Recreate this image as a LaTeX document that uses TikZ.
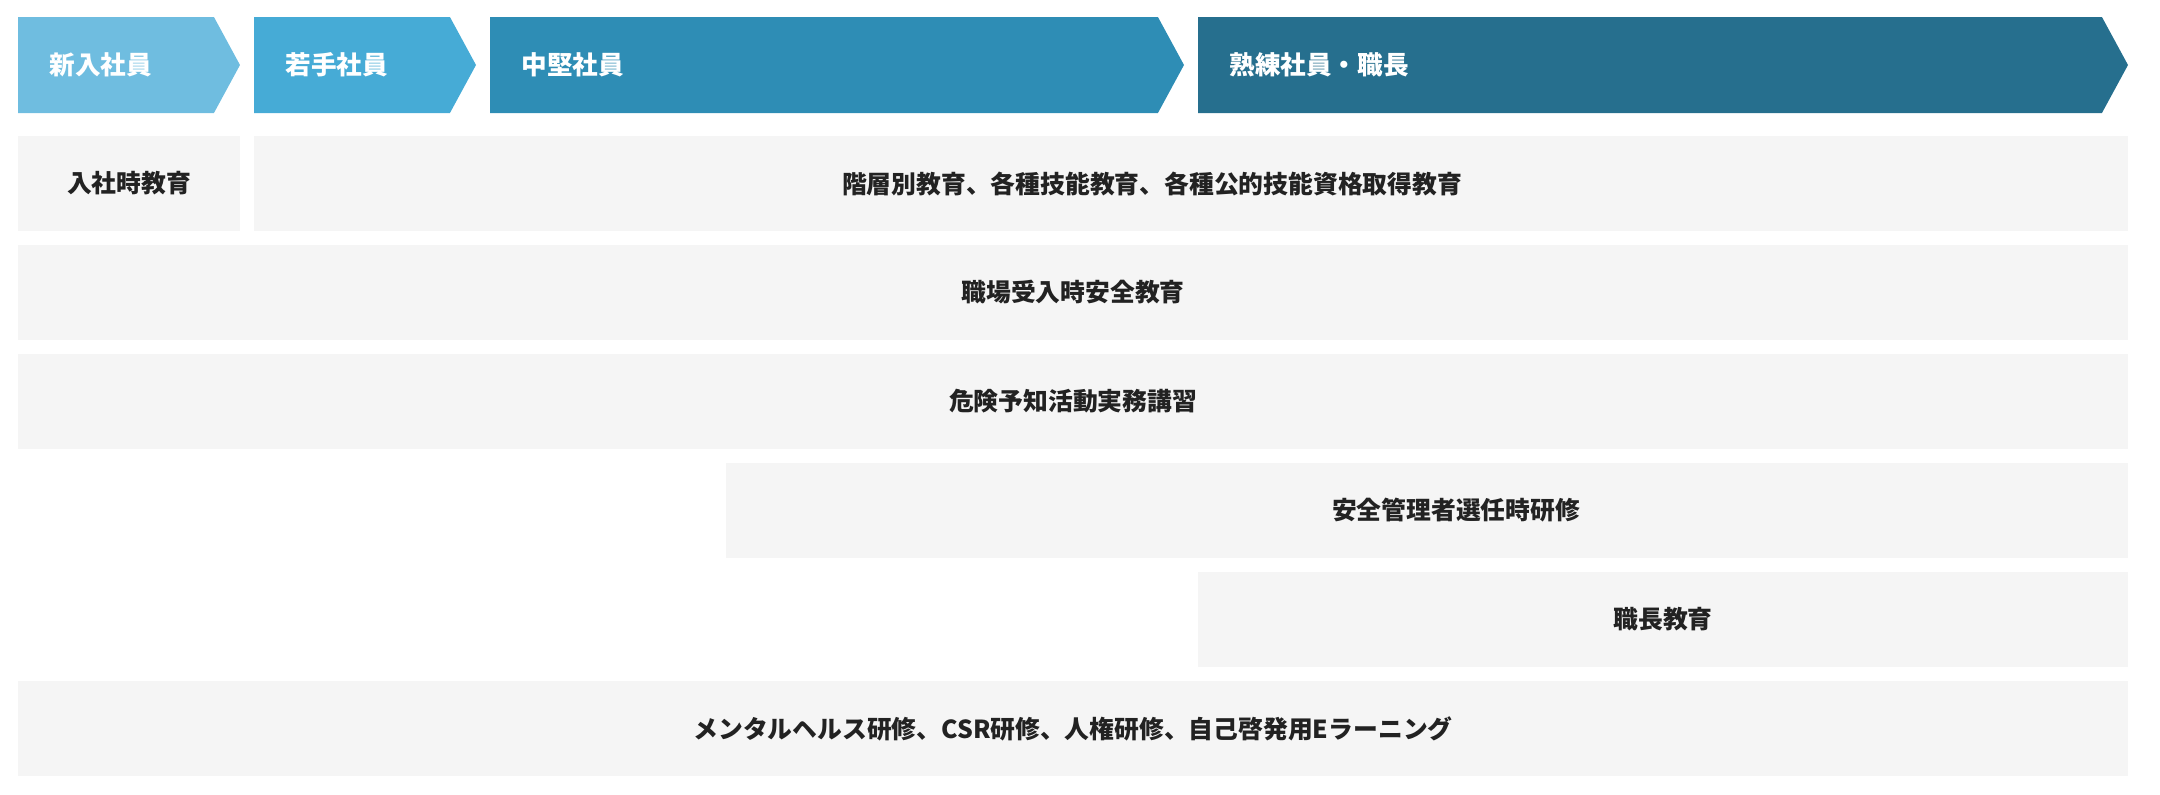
\documentclass[tikz,border=0pt]{standalone}
\usepackage{fontspec}
\setmainfont{Noto Sans CJK JP}
\usetikzlibrary{positioning,shapes.symbols}
\definecolor{stageA}{HTML}{6FBDE0}
\definecolor{stageB}{HTML}{46ABD6}
\definecolor{stageC}{HTML}{2E8DB5}
\definecolor{stageD}{HTML}{266F8E}
\definecolor{laneback}{HTML}{F5F5F5}
\definecolor{laneink}{HTML}{222222}
\tikzset{stage/.style={signal,signal to=east,signal from=nowhere,signal pointer angle=123,
		draw=none,inner sep=0pt,outer sep=0pt,minimum height=48pt,anchor=west},
	 stagetext/.style={inner sep=0pt,text=white,font=\bfseries\fontsize{12.8}{14}\selectfont},
	 lane/.style={fill=laneback,inner sep=0pt,outer sep=0pt,minimum height=47.5pt,anchor=north west,
		text=laneink,font=\bfseries\fontsize{12.4}{14}\selectfont},
	 lanetext/.style={inner sep=0pt,text=laneink,font=\bfseries\fontsize{12.4}{14}\selectfont},
	 node distance = 7pt
	 }

\begin{document}
\begin{tikzpicture}[x=0.5pt,y=-0.5pt] % career stages and training
	\useasboundingbox (0,0) rectangle (2160,794);
	\node[stage,fill=stageA,minimum width=111pt] (s1) at (18,65) {};
	\node[stage,fill=stageB,minimum width=111pt] (s2) [right=of s1] {};
	\node[stage,fill=stageC,minimum width=347pt] (s3) [right=of s2] {};
	\node[stage,fill=stageD,minimum width=465pt] (s4) [right=of s3] {};
	\node[stagetext] (n1) [right=15.5pt of s1.west] {新入社員};
	\node[stagetext] (n2) [right=15.5pt of s2.west] {若手社員};
	\node[stagetext] (n3) [right=15.5pt of s3.west] {中堅社員};
	\node[stagetext] (n4) [right=15.5pt of s4.west] {熟練社員・職長};
	\node[lane,minimum width=111pt] (r1a) at (18,136) {入社時教育};
	\node[lane,minimum width=937pt] (r1b) at (254,136) {};
	\node[lane,minimum width=1055pt] (r2) [below=of r1a.south west,anchor=north west] {職場受入時安全教育};
	\node[lane,minimum width=1055pt] (r3) [below=of r2.south west,anchor=north west] {危険予知活動実務講習};
	\node[lane,minimum width=701pt] (r4) at (726,463) {};
	\node[lane,minimum width=465pt] (r5) at (1198,572) {職長教育};
	\node[lane,minimum width=1055pt] (r6) at (18,681) {メンタルヘルス研修、CSR研修、人権研修、自己啓発用Eラーニング};
	\node[lanetext,xshift=-19.5pt] (t1b) at (r1b.center) {階層別教育、各種技能教育、各種公的技能資格取得教育};
	\node[lanetext,xshift=14.5pt] (t4) at (r4.center) {安全管理者選任時研修};
\end{tikzpicture}
\end{document}
